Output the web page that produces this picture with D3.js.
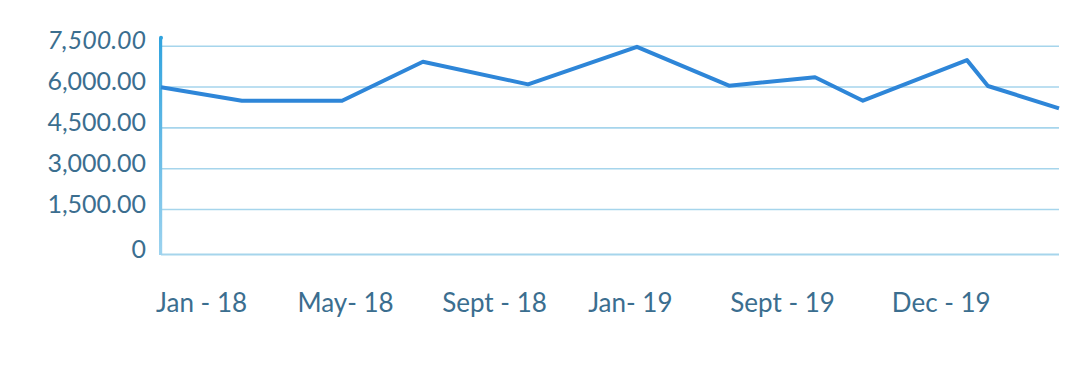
<!DOCTYPE html>
<html>
<head>
<meta charset="utf-8">
<script src="https://cdn.jsdelivr.net/npm/d3@7"></script>
<style>
  body { margin: 0; background: #fff; }
  svg { display: block; }
  .tick text { font-family: Lato, "Noto Sans", sans-serif; fill: #3b6e8f; }
</style>
</head>
<body>
<div id="chart-container"></div>
<script>
// Data
const monthPos = [0, 2.16, 4.84, 7.0, 9.81, 12.72, 15.18, 17.48, 18.76, 21.54, 22.1, 24];
const values = [5970, 5480, 5480, 6910, 6080, 7460, 6030, 6340, 5480, 6970, 6020, 5200];
const xTickLabels = ["Jan - 18", "May- 18", "Sept - 18", "Jan- 19", "Sept - 19", "Dec - 19"];
const xTickPos = [1.07, 4.92, 8.9, 12.53, 16.6, 20.84];
const yTicks = [0, 1500, 3000, 4500, 6000, 7500];

const width = 1080;
const height = 374;
const plotLeft = 161, plotRight = 1059, plotTop = 45.7, plotBottom = 254;

const svg = d3
  .select("#chart-container")
  .append("svg")
  .attr("width", width)
  .attr("height", height);

// Scales
const xScale = d3.scaleLinear().domain([0, 24]).range([plotLeft, plotRight]);
const yScale = d3.scaleLinear().domain([0, 1500, 7500]).range([plotBottom, 209, plotTop]);

// Gradient for the left axis line
const grad = svg.append("defs").append("linearGradient")
  .attr("id", "axisGrad")
  .attr("x1", 0).attr("y1", 0).attr("x2", 0).attr("y2", 1);
grad.append("stop").attr("offset", "0%").attr("stop-color", "#30a3de");
grad.append("stop").attr("offset", "100%").attr("stop-color", "#9dd3ef");

// Y axis with gridlines
const yAxisGroup = svg.append("g")
  .attr("transform", `translate(${plotLeft},0)`)
  .call(
    d3.axisLeft(yScale)
      .tickValues(yTicks)
      .tickSize(-(plotRight - plotLeft))
      .tickPadding(15)
      .tickFormat((d) => (d === 0 ? "0" : d3.format(",.2f")(d)))
  );
yAxisGroup.select(".domain").remove();
yAxisGroup.selectAll(".tick line")
  .attr("stroke", "#a6d5ec")
  .attr("stroke-width", (d) => (d === 0 ? 2 : 1.6));
yAxisGroup.selectAll(".tick text")
  .attr("dy", "0.12em")
  .style("font-size", "25px")
  .style("font-style", (d) => (d === 7500 ? "italic" : "normal"));

// X axis labels
const xAxisGroup = svg.append("g")
  .attr("transform", `translate(0,${plotBottom})`)
  .call(
    d3.axisBottom(xScale)
      .tickValues(xTickPos)
      .tickSize(0)
      .tickPadding(39.5)
      .tickFormat((d, i) => xTickLabels[i])
  );
xAxisGroup.select(".domain").remove();
xAxisGroup.selectAll(".tick text").style("font-size", "26px");

// Left axis line
svg.append("rect")
  .attr("x", plotLeft - 2)
  .attr("y", yScale(7500) - 8)
  .attr("width", 3.2)
  .attr("height", plotBottom - yScale(7500) + 9)
  .attr("fill", "url(#axisGrad)");
svg.append("circle")
  .attr("cx", plotLeft)
  .attr("cy", yScale(7500) - 8)
  .attr("r", 2)
  .attr("fill", "#30a3de");

// Line
const line = d3.line()
  .x((d, i) => xScale(monthPos[i]))
  .y((d) => yScale(d));

svg.append("path")
  .datum(values)
  .attr("fill", "none")
  .attr("stroke", "#2e86d8")
  .attr("stroke-width", 4)
  .attr("stroke-linejoin", "round")
  .attr("d", line);
</script>
</body>
</html>
